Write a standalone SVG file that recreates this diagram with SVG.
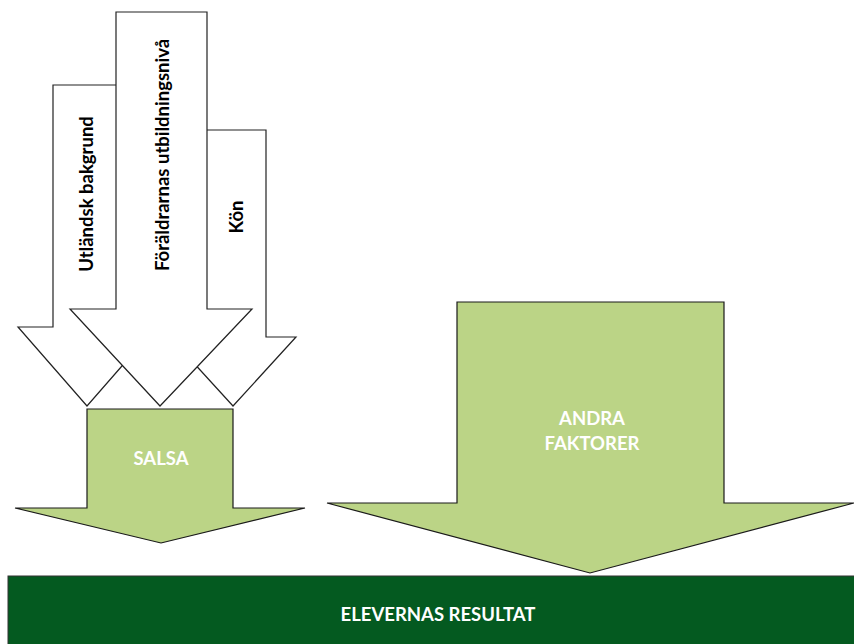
<svg xmlns="http://www.w3.org/2000/svg" width="854" height="644" viewBox="0 0 854 644">
<style>
.w{fill:#ffffff;stroke:#222222;stroke-width:1.2;stroke-linejoin:miter}
.g{fill:#bbd486;stroke:#1a1a1a;stroke-width:1.2}
.vt{font-family:Lato,"Open Sans",sans-serif;font-weight:bold;font-size:18.5px;fill:#000000;text-anchor:middle}
.lt{font-family:Lato,"Open Sans",sans-serif;font-weight:bold;font-size:18.5px;fill:#ffffff;text-anchor:middle}
</style>
<rect width="854" height="644" fill="#ffffff"/>
<g id="utlandsk">
<polygon class="w" points="53,85 121,85 121,327 156,327 87,406 18,327 53,327"/>
<text class="vt" transform="translate(93,194) rotate(-90)">Utländsk bakgrund</text>
</g>
<g id="kon">
<polygon class="w" points="200,130 266,130 266,337 296,337 233,406 170,337 200,337"/>
<text class="vt" transform="translate(243,217) rotate(-90)">Kön</text>
</g>
<g id="foraldrarnas">
<polygon class="w" points="116,12 207,12 207,309 252,309 160,406 70,309 116,309"/>
<text class="vt" transform="translate(169,155) rotate(-90)">Föräldrarnas utbildningsnivå</text>
</g>
<g id="salsa">
<polygon class="g" points="87,409 233,409 233,508 305,508 161,543 15,508 87,508"/>
<text class="lt" x="161" y="465">SALSA</text>
</g>
<g id="andra">
<polygon class="g" points="457,302 724,302 724,503 854,503 590,573 327,503 457,503"/>
<text class="lt" x="592" y="425">ANDRA</text>
<text class="lt" x="592" y="450">FAKTORER</text>
</g>
<g id="resultat">
<rect x="8" y="576" width="850" height="72" fill="#045a20" stroke="#333333" stroke-width="1"/>
<text class="lt" x="438" y="621">ELEVERNAS RESULTAT</text>
</g>
<g id="connectors"></g>
</svg>
